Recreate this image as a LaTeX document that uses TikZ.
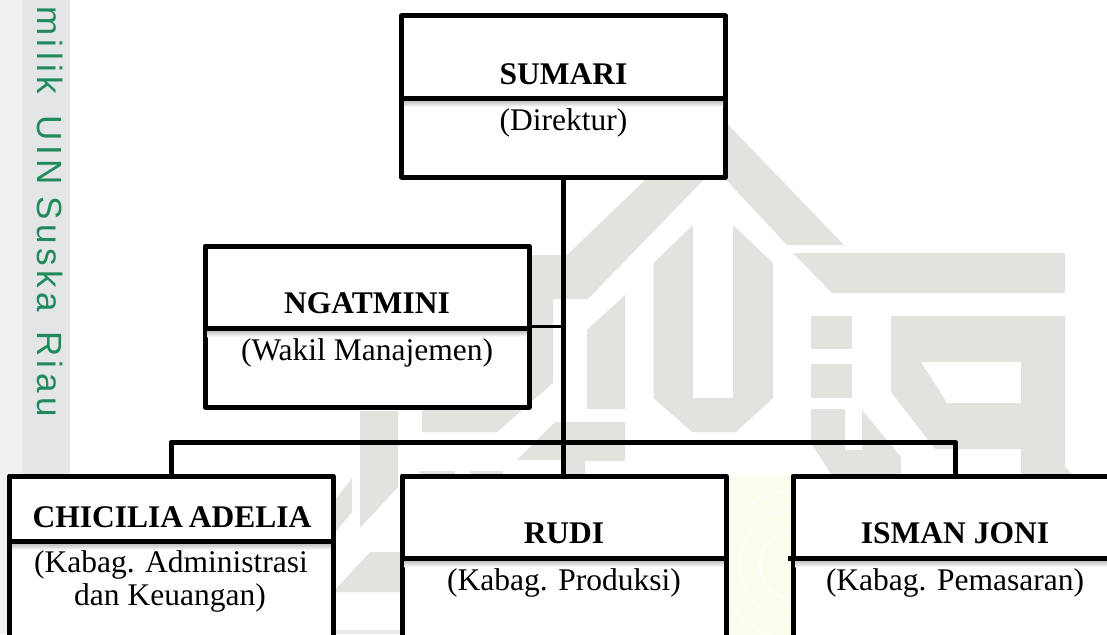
\documentclass[tikz,border=0pt]{standalone}
\usepackage{fontspec}
\setmainfont{Liberation Serif}
\newfontfamily\wmfont[LetterSpace=13]{Liberation Sans}
\definecolor{wmgray}{HTML}{E1E3DE}
\definecolor{stripa}{HTML}{F0F1F3}
\definecolor{stripb}{HTML}{E3E5E7}
\definecolor{wmgreen}{HTML}{1F8A5A}
\definecolor{wmyellow}{HTML}{FDFDEE}
\tikzset{
  orgbox/.style={draw=black,fill=white,line width=5pt,line join=round,outer sep=0pt,inner sep=0pt},
  namelabel/.style={anchor=base,font=\fontsize{31.5}{36}\selectfont\bfseries,inner sep=0pt},
  rolelabel/.style={anchor=base,font=\fontsize{31.5}{36}\selectfont,inner sep=0pt,align=center},
  link/.style={draw=black,line width=5pt,line join=round},
  thinlink/.style={draw=black,line width=3.5pt},
  divider/.style={draw=black,line width=5pt},
  dropshade/.style={top color=black!35,bottom color=white,draw=none},
  wm/.style={fill=wmgray,draw=none}
}
\begin{document}
\begin{tikzpicture}[x=1pt,y=-1pt]
\useasboundingbox (0,0) rectangle (1107,634);
\clip (0,0) rectangle (1107,634);
\fill[white] (0,0) rectangle (1107,634);
% side strip
\fill[stripa] (0,0) rectangle (22,634);
\fill[stripb] (22,0) rectangle (70,480);
\node[anchor=base west,rotate=-90,inner sep=0pt,text=wmgreen,font=\fontsize{35}{40}\selectfont\wmfont] (side) at (37.5,6) {milik\kern7pt\ UIN\kern-3pt\ Suska\kern5pt\ Riau};
% watermark
\fill[wmyellow] (770,790) circle (315);
\draw[white!60!wmyellow,line width=3pt] (795,565) circle (35) (795,565) circle (55) (795,565) circle (75);
\fill[wm] (716,112) -- (844,245) -- (787,245) -- (715,168) -- (588,299) -- (553,299) -- (553,383) -- (497,432) -- (422,432) -- (422,255) -- (567,255) -- cycle;
\fill[wm] (793,253) -- (1065,253) -- (1065,293) -- (832,293) -- cycle;
\fill[wm] (653.5,263) -- (693,225) -- (693,398) -- (733,398) -- (733,225) -- (773,263) -- (773,398) -- (736,432) -- (692,432) -- (653.5,398) -- cycle;
\fill[wm] (587,330) -- (625,295) -- (625,409) -- (587,409) -- cycle;
\fill[wm] (517,460) -- (555,422) -- (625,422) -- (625,461) -- (585,461) -- (585,480) -- (563,480) -- (563,460) -- cycle;
\fill[wm] (811,316) rectangle (852,349);
\fill[wm] (811,364) rectangle (852,398);
\fill[wm] (811,409) -- (845,409) -- (845,450) -- (862,450) -- (862,410) -- (901,457) -- (901,480) -- (835,480) -- (811,443) -- cycle;
\fill[wm,even odd rule] (891,316) -- (1065,316) -- (1065,467) -- (1078,480) -- (1021,480) -- (1021,449) -- (935,449) -- (891,392) -- cycle
   (921,362) -- (1021,362) -- (1021,403) -- (947,403) -- cycle;
\fill[wm] (360,411) -- (398,411) -- (398,487) -- (360,528) -- cycle;
\fill[wm] (335,500) -- (352,478) -- (352,512) -- (333,535) -- cycle;
\fill[wm] (333,592) -- (370,552) -- (402,552) -- (402,592) -- cycle;
\fill[wm] (420,471) rectangle (455,476);
\fill[wm] (470,471) rectangle (503,476);
\fill[black!8] (333,630) rectangle (402,634);
% connectors
\coordinate (bus) at (563.5,442);
% boxes
\node[orgbox,minimum width=324pt,minimum height=161pt] (sumari) at (563.5,96.5) {};
\node[orgbox,minimum width=324pt,minimum height=161pt] (ngatmini) at (367,326.5) {};
\node[orgbox,minimum width=323.5pt,minimum height=224pt] (chicilia) at (171.25,588) {};
\node[orgbox,minimum width=324pt,minimum height=224pt] (rudi) at (564,588) {};
\node[orgbox,minimum width=325pt,minimum height=224pt] (isman) at (955.5,588) {};
\draw[link] (sumari.south) -- (bus) -- (bus |- rudi.north);
\draw[link] (chicilia.north) |- (bus) -| (isman.north);
\draw[thinlink] (ngatmini.east) -- (ngatmini.east -| sumari.south);
% divider levels
\coordinate (ds) at (0,98);
\coordinate (dn) at (0,328);
\coordinate (dc) at (0,541);
\coordinate (dr) at (0,558);
\coordinate (dsb) at (0,107);
\coordinate (dnb) at (0,337);
\coordinate (dcb) at (0,550);
\coordinate (drb) at (0,567);
% shadows
\shade[dropshade] ([xshift=2.5pt]sumari.west |- ds) rectangle ([xshift=-2.5pt]sumari.east |- dsb);
\shade[dropshade] ([xshift=2.5pt]ngatmini.west |- dn) rectangle ([xshift=-2.5pt]ngatmini.east |- dnb);
\shade[dropshade] ([xshift=2.5pt]chicilia.west |- dc) rectangle ([xshift=-2.5pt]chicilia.east |- dcb);
\shade[dropshade] ([xshift=2.5pt]rudi.west |- dr) rectangle ([xshift=-2.5pt]rudi.east |- drb);
\shade[dropshade] ([xshift=2.5pt]isman.west |- dr) rectangle ([xshift=-2.5pt]isman.east |- drb);
% dividers
\draw[divider] (sumari.west |- ds) -- (sumari.east |- ds);
\draw[divider] (ngatmini.west |- dn) -- (ngatmini.east |- dn);
\draw[divider] (chicilia.west |- dc) -- (chicilia.east |- dc);
\draw[divider] (rudi.west |- dr) -- (rudi.east |- dr);
\draw[divider] ([xshift=-5pt]isman.west |- dr) -- (isman.east |- dr);
% labels
\node[namelabel] (tsumari) at (563.5,84) {SUMARI};
\node[rolelabel] (rsumari) at (563.5,130) {(Direktur)};
\node[namelabel] (tngat) at (367,313) {NGATMINI};
\node[rolelabel] (rngat) at (367,360) {(Wakil Manajemen)};
\node[namelabel] (tchic) at (172,527) {CHICILIA\kern-2pt\ ADELIA};
\node[rolelabel] (rchic) at (171,572) {(Kabag. Administrasi};
\node[rolelabel] (rchicb) at (170,605) {dan Keuangan)};
\node[namelabel] (trudi) at (564,543) {RUDI};
\node[rolelabel] (rrudi) at (564,590) {(Kabag. Produksi)};
\node[namelabel] (tisman) at (955,543) {ISMAN JONI};
\node[rolelabel] (risman) at (955,590) {(Kabag. Pemasaran)};
\end{tikzpicture}
\end{document}
